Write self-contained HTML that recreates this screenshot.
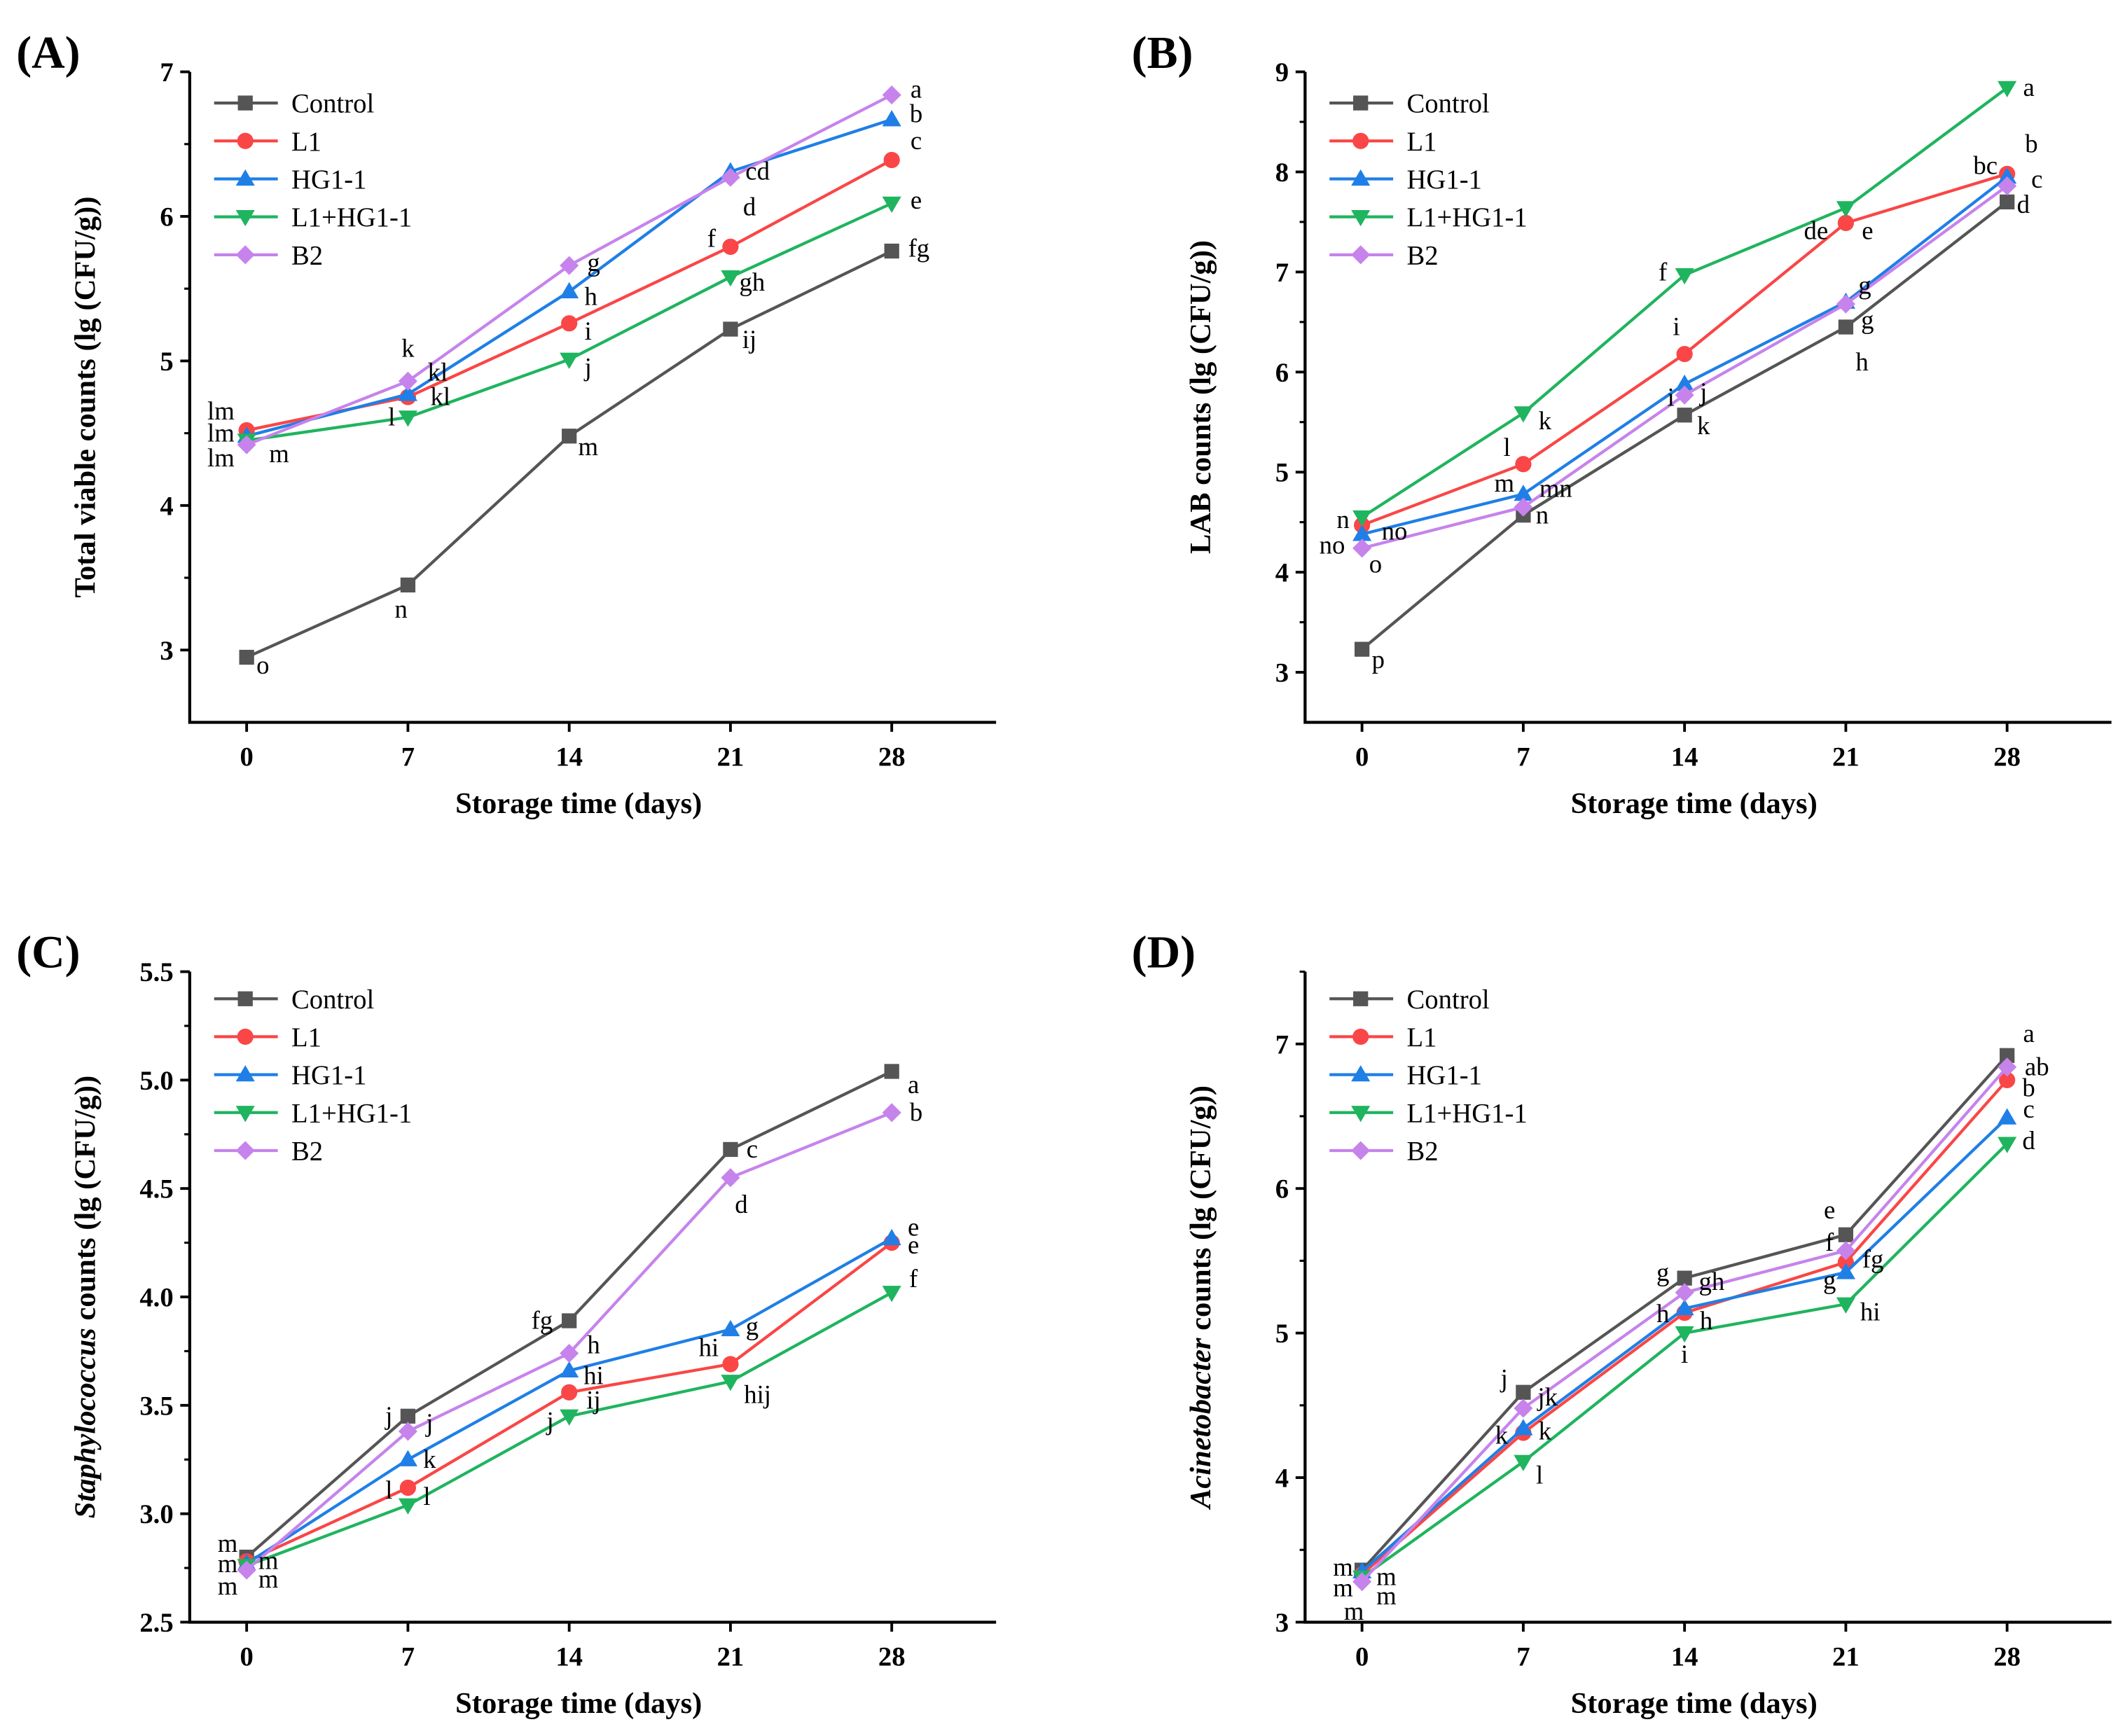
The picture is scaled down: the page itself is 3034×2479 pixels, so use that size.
<!DOCTYPE html>
<html><head><meta charset="utf-8"><style>
html,body{margin:0;padding:0;background:#fff}
svg{display:block}
text{font-family:"Liberation Serif",serif}
</style></head><body>
<svg id="fig" width="3034" height="2479" viewBox="0 0 1568 1281" preserveAspectRatio="none" xmlns="http://www.w3.org/2000/svg"></svg>
<script>
const days = [0, 7, 14, 21, 28];
const seriesNames = ["Control", "L1", "HG1-1", "L1+HG1-1", "B2"];
// Panel A
const aControl = [2.95, 3.45, 4.48, 5.22, 5.76];
const aL1 = [4.52, 4.75, 5.26, 5.79, 6.39];
const aHG = [4.48, 4.77, 5.48, 6.31, 6.67];
const aLH = [4.45, 4.61, 5.01, 5.58, 6.09];
const aB2 = [4.42, 4.86, 5.66, 6.27, 6.84];
const aTicks = ["3", "4", "5", "6", "7"];
// Panel B
const bControl = [3.23, 4.57, 5.57, 6.45, 7.70];
const bL1 = [4.47, 5.08, 6.18, 7.49, 7.98];
const bHG = [4.38, 4.78, 5.88, 6.70, 7.95];
const bLH = [4.55, 5.59, 6.97, 7.64, 8.84];
const bB2 = [4.24, 4.65, 5.77, 6.68, 7.86];
const bTicks = ["3", "4", "5", "6", "7", "8", "9"];
// Panel C
const cControl = [2.80, 3.45, 3.89, 4.68, 5.04];
const cL1 = [2.78, 3.12, 3.56, 3.69, 4.25];
const cHG = [2.77, 3.25, 3.66, 3.85, 4.27];
const cLH = [2.76, 3.04, 3.45, 3.61, 4.02];
const cB2 = [2.74, 3.38, 3.74, 4.55, 4.85];
const cTicks = ["2.5", "3.0", "3.5", "4.0", "4.5", "5.0", "5.5"];
// Panel D
const dControl = [3.36, 4.59, 5.38, 5.68, 6.92];
const dL1 = [3.33, 4.31, 5.14, 5.49, 6.75];
const dHG = [3.35, 4.34, 5.17, 5.42, 6.49];
const dLH = [3.31, 4.11, 5.00, 5.20, 6.31];
const dB2 = [3.28, 4.48, 5.28, 5.57, 6.84];
const dTicks = ["3", "4", "5", "6", "7"];
// significance letters: [series, point, text, dx, dy]
const aLetters = [[0,0,"o",12,12],[0,1,"n",-5,24],[0,2,"m",14,14],[0,3,"ij",14,14],[0,4,"fg",20,4],
 [1,0,"lm",-19,-8],[2,0,"lm",-19,4],[4,0,"lm",-19,16],[3,0,"m",24,16],
 [4,1,"k",0,-18],[2,1,"kl",22,-10],[1,1,"kl",24,6],[3,1,"l",-12,6],
 [4,2,"g",18,4],[2,2,"h",16,10],[1,2,"i",14,12],[3,2,"j",14,12],
 [2,3,"cd",20,6],[4,3,"d",14,28],[1,3,"f",-14,0],[3,3,"gh",16,10],
 [4,4,"a",18,2],[2,4,"b",18,2],[1,4,"c",18,-8],[3,4,"e",18,4]];
const bLetters = [[1,0,"n",-14,2],[2,0,"no",24,4],[4,0,"no",-22,4],[4,0,"o",10,18],[0,0,"p",12,14],
 [1,1,"l",-12,-6],[2,1,"m",-14,-2],[2,1,"mn",24,2],[0,1,"n",14,6],[3,1,"k",16,12],
 [3,2,"f",-16,4],[1,2,"i",-6,-14],[2,2,"i",-10,16],[4,2,"j",14,4],[0,2,"k",14,14],
 [1,3,"de",-22,12],[1,3,"e",16,12],[2,3,"g",14,-6],[4,3,"g",16,18],[0,3,"h",12,32],
 [3,4,"a",16,6],[1,4,"b",18,-16],[2,4,"bc",-16,-2],[2,4,"c",22,8],[0,4,"d",12,8]];
const cLetters = [[0,0,"m",-14,-4],[1,0,"m",-14,8],[4,0,"m",-14,18],[2,0,"m",16,4],[3,0,"m",16,16],
 [0,1,"j",-14,6],[4,1,"j",16,0],[2,1,"k",16,6],[1,1,"l",-14,8],[3,1,"l",14,0],
 [0,2,"fg",-20,6],[4,2,"h",18,0],[2,2,"hi",18,10],[1,2,"ij",18,12],[3,2,"j",-14,10],
 [0,3,"c",16,6],[4,3,"d",8,26],[2,3,"g",16,4],[1,3,"hi",-16,-6],[3,3,"hij",20,16],
 [0,4,"a",16,16],[4,4,"b",18,6],[2,4,"e",16,-2],[1,4,"e",16,8],[3,4,"f",16,-4]];
const dLetters = [[0,0,"m",-14,4],[1,0,"m",-14,16],[4,0,"m",-6,28],[2,0,"m",18,10],[3,0,"m",18,20],
 [0,1,"j",-14,-4],[4,1,"jk",18,-2],[2,1,"k",16,8],[1,1,"k",-16,8],[3,1,"l",12,16],
 [0,2,"g",-16,2],[4,2,"gh",20,-2],[2,2,"h",-16,10],[1,2,"h",16,12],[3,2,"i",0,22],
 [0,3,"e",-12,-12],[4,3,"f",-12,0],[1,3,"fg",20,4],[2,3,"g",-12,12],[3,3,"hi",18,12],
 [0,4,"a",16,-10],[4,4,"ab",22,6],[1,4,"b",16,12],[2,4,"c",16,0],[3,4,"d",16,4]];

const colors = ["#555555", "#fa4646", "#1f7fe6", "#1fb45e", "#c683ec"];
const NS = "http://www.w3.org/2000/svg";
const svg = document.getElementById("fig");
function el(tag, attrs, parent) {
  const e = document.createElementNS(NS, tag);
  for (const k in attrs) e.setAttribute(k, attrs[k]);
  (parent || svg).appendChild(e);
  return e;
}
function marker(g, type, x, y, c) {
  let m;
  const s = 5.5;
  if (type === 0) m = el("rect", {x: x - s, y: y - s, width: 2 * s, height: 2 * s, fill: c}, g);
  else if (type === 1) m = el("circle", {cx: x, cy: y, r: s + 0.5, fill: c}, g);
  else if (type === 2) m = el("polygon", {points: `${x},${y - 7} ${x - 7},${y + 5} ${x + 7},${y + 5}`, fill: c}, g);
  else if (type === 3) m = el("polygon", {points: `${x},${y + 7} ${x - 7},${y - 5} ${x + 7},${y - 5}`, fill: c}, g);
  else m = el("polygon", {points: `${x},${y - 7} ${x + 7},${y} ${x},${y + 7} ${x - 7},${y}`, fill: c}, g);
  return m;
}
function panel(p) {
  const g = el("g", {});
  
  
  const L = p.left, B = p.bottom, T = B - 480, R = L + 595;
  const X = d => L + 42 + d * 17;
  const Y = v => B - (v - p.ymin) / (p.ymax - p.ymin) * 480;
  const lab = el("text", {x: p.left - 128, y: B - 483, "font-size": 34, "font-weight": "bold"}, g);
  lab.textContent = "(" + p.id + ")";
  
  
  const ax = el("path", {d: `M${L},${T} L${L},${B} L${R},${B}`, stroke: "#000", "stroke-width": 2.2, fill: "none"}, g);
  
  
  // y ticks
  p.ticks.forEach((t, i) => {
    const v = parseFloat(t), y = Y(v);
    el("line", {x1: L - 7, x2: L, y1: y, y2: y, stroke: "#000", "stroke-width": 2}, g);
    const mv = v + p.step / 2;
    if (mv <= p.ymax + 1e-9) el("line", {x1: L - 4, x2: L, y1: Y(mv), y2: Y(mv), stroke: "#000", "stroke-width": 1.6}, g);
    const tx = el("text", {x: L - 12, y: y + 7, "font-size": 20, "font-weight": "bold", "text-anchor": "end"}, g);
    tx.textContent = t;
    
    
  });
  days.forEach(d => {
    el("line", {x1: X(d), x2: X(d), y1: B, y2: B + 7, stroke: "#000", "stroke-width": 2}, g);
    const tx = el("text", {x: X(d), y: B + 32, "font-size": 20, "font-weight": "bold", "text-anchor": "middle"}, g);
    tx.textContent = d;
    
    
  });
  const xt = el("text", {x: L + 287, y: B + 67, "font-size": 22, "font-weight": "bold", "text-anchor": "middle"}, g);
  xt.textContent = "Storage time (days)";
  
  
  const yc = B - 240;
  const yt = el("text", {x: 0, y: 0, "font-size": 22, "font-weight": "bold", "text-anchor": "middle", transform: `translate(${L - 70},${yc}) rotate(-90)`}, g);
  
  
  if (p.italic) {
    const ts = el("tspan", {"font-style": "italic"}, yt); ts.textContent = p.italic;
    const ts2 = el("tspan", {}, yt); ts2.textContent = p.ytitle;
  } else yt.textContent = p.ytitle;
  // series
  p.series.forEach((vals, si) => {
    const sg = el("g", {}, g);
    
    
    const pts = vals.map((v, i) => X(days[i]) + "," + Y(v)).join(" ");
    el("polyline", {points: pts, fill: "none", stroke: colors[si], "stroke-width": 2.2}, sg);
    vals.forEach((v, i) => {
      const m = marker(sg, si, X(days[i]), Y(v), colors[si]);
      
      
    });
  });
  p.letters.forEach(l => {
    const [si, pi, t, dx, dy] = l;
    const tx = el("text", {x: X(days[pi]) + dx, y: Y(p.series[si][pi]) + dy, "font-size": 19, "text-anchor": "middle"}, g);
    tx.textContent = t;
    
    
  });
  // legend
  seriesNames.forEach((n, i) => {
    const y = p.legY + i * 28;
    const lg = el("g", {}, g);
    
    
    el("line", {x1: L + 18, x2: L + 65, y1: y, y2: y, stroke: colors[i], "stroke-width": 2.2}, lg);
    marker(lg, i, L + 41, y, colors[i]);
    const tx = el("text", {x: L + 75, y: y + 7, "font-size": 20}, lg);
    tx.textContent = n;
  });
}
panel({id: "A", left: 140, bottom: 533, ymin: 2.5, ymax: 7, step: 1, ticks: aTicks, series: [aControl, aL1, aHG, aLH, aB2], letters: aLetters, ytitle: "Total viable counts (lg (CFU/g))", legY: 76});
panel({id: "B", left: 963, bottom: 533, ymin: 2.5, ymax: 9, step: 1, ticks: bTicks, series: [bControl, bL1, bHG, bLH, bB2], letters: bLetters, ytitle: "LAB counts (lg (CFU/g))", legY: 76});
panel({id: "C", left: 140, bottom: 1197, ymin: 2.5, ymax: 5.5, step: 0.5, ticks: cTicks, series: [cControl, cL1, cHG, cLH, cB2], letters: cLetters, italic: "Staphylococcus", ytitle: " counts (lg (CFU/g))", legY: 737});
panel({id: "D", left: 963, bottom: 1197, ymin: 3, ymax: 7.5, step: 1, ticks: dTicks, series: [dControl, dL1, dHG, dLH, dB2], letters: dLetters, italic: "Acinetobacter", ytitle: " counts (lg (CFU/g))", legY: 737});
</script>
</body></html>
